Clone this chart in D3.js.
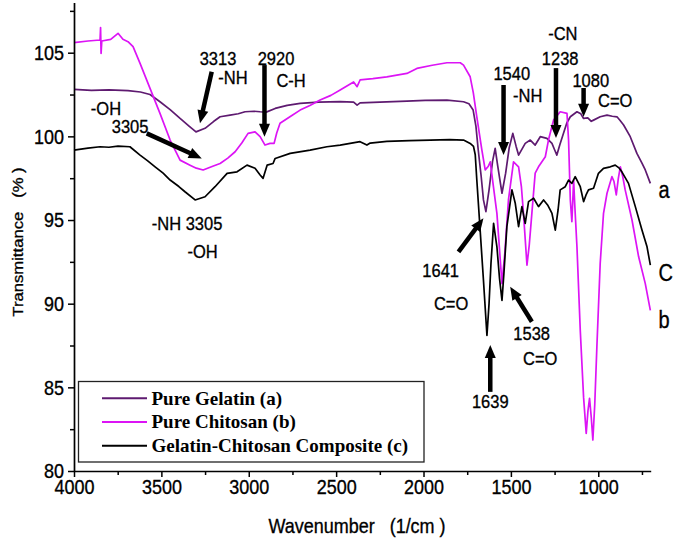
<!DOCTYPE html>
<html>
<head>
<meta charset="utf-8">
<script src="https://cdn.jsdelivr.net/npm/d3@7"></script>
<style>
  body { margin: 0; background: #fff; }
  text { font-family: "Liberation Sans", Arial, sans-serif; fill: #000; }
  .stretch {
    transform-box: fill-box;
    transform-origin: center;
    transform: scaleY(1.15);
    stroke: #000;
    stroke-width: 0.3px;
  }
</style>
</head>
<body>
<div id="wrapper"></div>
<script>
// spectra: [wavenumber (1/cm), transmittance (%)]
const gelatin = [
  [4000,102.81],[3900,102.75],[3800,102.78],[3691,102.73],[3620,102.65],[3565,102.5],
  [3508,102.07],[3450,101.6],[3393,101.07],[3340,100.6],[3302,100.27],[3250,100.48],
  [3200,100.9],[3164,101.17],[3107,101.27],[3060,101.35],[3021,101.47],[2970,101.5],
  [2935,101.47],[2900,101.45],[2849,101.67],[2780,101.85],[2706,101.97],[2600,102.05],
  [2477,102.07],[2400,102.05],[2380,101.87],[2363,102.0],[2250,102.05],[2095,102.1],
  [1990,102.15],[1866,102.17],[1771,102.07],[1740,101.95],[1716,101.57],[1700,100.6],
  [1687,99.2],[1670,97.6],[1657,96.2],[1643,95.5],[1625,96.8],[1605,98.5],[1590,99.28],
  [1575,98.2],[1551,96.6],[1530,97.8],[1510,99.3],[1489,100.18],[1470,99.4],[1456,98.88],
  [1418,99.58],[1389,99.78],[1361,99.48],[1332,99.98],[1294,99.88],[1265,99.58],
  [1250,99.2],[1237,98.88],[1220,99.5],[1199,100.18],[1180,100.8],[1160,101.17],
  [1122,101.47],[1100,101.35],[1084,101.07],[1060,101.1],[1040,100.9],[1027,100.97],
  [989,101.17],[950,101.27],[920,101.2],[893,101.17],[875,100.95],[855,100.68],
  [817,99.98],[779,98.98],[750,98.4],[731,97.99],[702,97.19]
];

const chitosan = [
  [4000,105.6],[3920,105.7],[3851,105.76],[3848,106.5],[3845,104.96],[3841,105.7],
  [3790,105.8],[3748,106.16],[3720,105.8],[3691,105.66],[3662,105.36],[3622,104.36],
  [3565,102.87],[3508,101.37],[3450,99.78],[3393,98.58],[3336,98.28],[3300,98.1],
  [3261,97.99],[3210,98.2],[3164,98.38],[3120,98.7],[3078,99.08],[3040,99.6],
  [3004,100.18],[2964,100.27],[2935,99.98],[2907,99.48],[2878,99.58],[2855,99.58],
  [2840,100.2],[2821,100.78],[2760,101.2],[2706,101.57],[2650,101.85],[2592,102.17],
  [2530,102.45],[2477,102.77],[2400,103.25],[2380,102.97],[2363,103.37],[2290,103.45],
  [2210,103.56],[2095,103.76],[2038,104.06],[1950,104.25],[1866,104.4],[1790,104.4],
  [1771,104.26],[1733,103.56],[1715,102.6],[1695,101.17],[1666,99.18],[1647,98.0],
  [1630,98.2],[1618,98.48],[1600,97.0],[1580,95.4],[1551,91.2],[1535,93.0],[1514,96.2],
  [1485,98.48],[1456,98.18],[1440,97.0],[1428,95.4],[1408,92.3],[1395,93.5],[1380,95.4],
  [1361,97.8],[1342,98.18],[1303,98.78],[1285,99.78],[1256,100.97],[1218,101.47],
  [1179,101.37],[1170,99.78],[1160,96.2],[1151,94.9],[1141,97.39],[1135,96.0],
  [1122,93.4],[1103,88.4],[1084,84.4],[1069,82.25],[1059,83.6],[1050,84.34],
  [1040,83.2],[1031,81.85],[1020,84.0],[1008,87.42],[989,92.4],[970,95.4],[950,96.6],
  [922,97.59],[910,97.3],[897,96.5],[885,97.5],[874,98.18],[860,97.6],[846,96.8],
  [807,95.0],[769,92.8],[731,91.2],[702,89.6]
];

const composite = [
  [4000,99.18],[3920,99.3],[3851,99.38],[3800,99.35],[3748,99.42],[3680,99.38],
  [3622,98.88],[3580,98.55],[3536,98.18],[3490,97.8],[3450,97.39],[3400,97.0],
  [3365,96.69],[3307,96.2],[3250,96.39],[3193,96.99],[3124,97.79],[3067,97.88],
  [3010,98.28],[2964,98.09],[2935,97.69],[2918,97.49],[2895,98.28],[2861,98.38],
  [2849,98.68],[2763,98.98],[2649,99.18],[2553,99.38],[2477,99.48],[2363,99.68],
  [2324,99.48],[2305,99.6],[2210,99.7],[2080,99.75],[1962,99.78],[1850,99.8],
  [1771,99.78],[1733,99.58],[1714,99.4],[1704,98.9],[1695,97.39],[1676,94.4],
  [1657,91.4],[1637,88.1],[1625,90.0],[1614,92.4],[1599,94.8],[1580,93.4],[1565,91.5],
  [1551,90.2],[1540,91.8],[1523,94.6],[1494,96.8],[1475,96.0],[1456,94.6],[1437,95.8],
  [1418,94.8],[1399,96.1],[1370,96.3],[1342,95.8],[1313,96.2],[1290,95.9],[1275,95.6],
  [1265,95.4],[1246,94.4],[1230,95.6],[1218,96.8],[1189,96.99],[1170,97.39],
  [1151,97.19],[1132,97.59],[1103,96.99],[1084,96.1],[1070,96.5],[1056,96.8],
  [1027,96.9],[999,97.79],[970,98.09],[931,98.18],[903,98.28],[880,98.1],[865,97.88],
  [827,97.19],[788,95.8],[750,94.4],[721,93.4],[702,92.3]
];

const seriesNames = ["Pure Gelatin (a)", "Pure Chitosan (b)", "Gelatin-Chitosan Composite (c)"];
const seriesColors = ["#5e1a70", "#dc14f5", "#000000"];

const xTicks = [4000, 3500, 3000, 2500, 2000, 1500, 1000];
const xMinorTicks = [3750, 3250, 2750, 2250, 1750, 1250, 750];
const yTicks = [80, 85, 90, 95, 100, 105];
const yMinorTicks = [82.5, 87.5, 92.5, 97.5, 102.5, 107.5];

// band annotations: [wavenumber, transmittance, text] (text centred)
const bandLabels = [
  [3176, 104.3, "3313"], [3090, 103.19, "-NH"],
  [2844, 104.3, "2920"], [2758, 103.0, "C-H"],
  [3817, 101.33, "-OH"], [3679, 100.26, "3305"],
  [3353, 94.46, "-NH 3305"], [3264, 92.79, "-OH"],
  [1495, 103.42, "1540"], [1404, 102.11, "-NH"],
  [1203, 105.82, "-CN"], [1218, 104.3, "1238"],
  [1043, 103.0, "1080"], [903, 101.81, "C=O"],
  [1902, 91.65, "1641"], [1842, 89.68, "C=O"],
  [1381, 87.88, "1538"], [1332, 86.39, "C=O"],
  [1618, 83.82, "1639"]
];
// arrows: [from wavenumber, from %, tip wavenumber, tip %]
const bandArrows = [
  [3212, 103.86, 3279, 100.78],
  [2910, 104.26, 2910, 99.98],
  [3584, 100.18, 3269, 98.68],
  [1542, 103.07, 1542, 98.88],
  [1242, 104.08, 1242, 99.9],
  [1084, 102.89, 1084, 101.17],
  [1800, 93.1, 1657, 95.1],
  [1380, 88.92, 1504, 91.01],
  [1618, 84.73, 1618, 87.53]
];
// curve tags at the right end: [wavenumber, transmittance, text]
const curveTags = [[655, 96.37, "a"], [655, 91.41, "C"], [655, 88.6, "b"]];

function drawChart() {
  const xAccessor = d => d[0];
  const yAccessor = d => d[1];

  let dimensions = {
    width: 674,
    height: 540,
    margin: { top: 2.5, right: 23.3, bottom: 69, left: 74 }
  };
  dimensions.boundedWidth = dimensions.width - dimensions.margin.left - dimensions.margin.right;
  dimensions.boundedHeight = dimensions.height - dimensions.margin.top - dimensions.margin.bottom;

  const wrapper = d3.select('#wrapper')
    .append('svg')
      .attr('width', dimensions.width)
      .attr('height', dimensions.height);

  const bounds = wrapper.append('g')
    .attr('transform', `translate(${dimensions.margin.left},${dimensions.margin.top})`);

  const xScale = d3.scaleLinear()
    .domain([4000, 700])
    .range([0, dimensions.boundedWidth]);

  const yScale = d3.scaleLinear()
    .domain([80, 108])
    .range([dimensions.boundedHeight, 0]);

  // lines
  const lineGenerator = d3.line()
    .x(d => xScale(xAccessor(d)))
    .y(d => yScale(yAccessor(d)));

  [gelatin, chitosan, composite].forEach((series, i) => {
    bounds.append('path')
      .datum(series)
      .attr('d', lineGenerator)
      .attr('fill', 'none')
      .attr('stroke', seriesColors[i])
      .attr('stroke-width', 1.7)
      .attr('stroke-linejoin', 'round');
  });

  // axes
  bounds.append('g')
    .attr('transform', `translate(0,${dimensions.boundedHeight})`)
    .call(d3.axisBottom(xScale).tickValues(xTicks).tickFormat(d3.format('d'))
      .tickSize(6).tickSizeOuter(0).tickPadding(3));
  bounds.append('g')
    .attr('transform', `translate(0,${dimensions.boundedHeight})`)
    .call(d3.axisBottom(xScale).tickValues(xMinorTicks).tickSize(4).tickFormat('').tickSizeOuter(0))
    .select('.domain').remove();

  bounds.append('g')
    .call(d3.axisLeft(yScale).tickValues(yTicks).tickFormat(d3.format('d'))
      .tickSize(6).tickSizeOuter(0).tickPadding(4));
  bounds.append('g')
    .call(d3.axisLeft(yScale).tickValues(yMinorTicks).tickSize(4).tickFormat('').tickSizeOuter(0))
    .select('.domain').remove();

  bounds.selectAll('.domain').attr('stroke-width', 1.7);
  bounds.selectAll('.tick line').attr('stroke-width', 1.5);
  bounds.selectAll('.tick text')
    .attr('class', 'stretch')
    .style('font-family', '"Liberation Sans", Arial, sans-serif')
    .style('font-size', '18px');

  wrapper.append('text')
    .attr('class', 'stretch')
    .attr('x', 357)
    .attr('y', 532)
    .attr('text-anchor', 'middle')
    .style('font-size', '18px')
    .style('white-space', 'pre')
    .text('Wavenumber   (1/cm )');

  wrapper.append('text')
    .attr('transform', 'translate(23,242) rotate(-90) scale(1.15,1)')
    .attr('text-anchor', 'middle')
    .attr('stroke', '#000')
    .attr('stroke-width', 0.3)
    .style('font-size', '14.5px')
    .style('white-space', 'pre')
    .text('Transmittance   (% )');

  // band labels and arrows
  bounds.selectAll('.band-label')
    .data(bandLabels)
    .join('text')
      .attr('class', 'band-label stretch')
      .attr('x', d => xScale(d[0]))
      .attr('y', d => yScale(d[1]))
      .attr('text-anchor', 'middle')
      .style('font-size', '16.5px')
      .text(d => d[2]);

  const headLength = 13;
  const headHalf = 5.5;
  bandArrows.forEach(([w1, t1, w2, t2]) => {
    const x1 = xScale(w1), y1 = yScale(t1);
    const x2 = xScale(w2), y2 = yScale(t2);
    const len = Math.hypot(x2 - x1, y2 - y1);
    const ux = (x2 - x1) / len, uy = (y2 - y1) / len;
    const bx = x2 - ux * headLength, by = y2 - uy * headLength;
    bounds.append('line')
      .attr('x1', x1).attr('y1', y1)
      .attr('x2', bx + ux).attr('y2', by + uy)
      .attr('stroke', '#000')
      .attr('stroke-width', 4.5);
    bounds.append('path')
      .attr('d', `M${x2},${y2}L${bx - uy * headHalf},${by + ux * headHalf}L${bx + uy * headHalf},${by - ux * headHalf}Z`)
      .attr('fill', '#000');
  });

  bounds.selectAll('.curve-tag')
    .data(curveTags)
    .join('text')
      .attr('class', 'curve-tag stretch')
      .attr('x', d => xScale(d[0]))
      .attr('y', d => yScale(d[1]))
      .style('font-size', '20px')
      .text(d => d[2]);

  // legend
  const legend = wrapper.append('g');
  legend.append('rect')
    .attr('x', 78.5)
    .attr('y', 381.5)
    .attr('width', 345.5)
    .attr('height', 80.5)
    .attr('fill', '#fff')
    .attr('stroke', '#222')
    .attr('stroke-width', 1.3);

  seriesNames.forEach((name, i) => {
    const y = 398.3 + i * 23.7;
    legend.append('line')
      .attr('x1', 102).attr('x2', 147)
      .attr('y1', y).attr('y2', y)
      .attr('stroke', seriesColors[i])
      .attr('stroke-width', 2);
    legend.append('text')
      .attr('x', 151.5)
      .attr('y', y + 6.3)
      .style('font-family', '"Liberation Serif", "Times New Roman", serif')
      .style('font-weight', 'bold')
      .style('font-size', '19px')
      .text(name);
  });
}

drawChart();
</script>
</body>
</html>
